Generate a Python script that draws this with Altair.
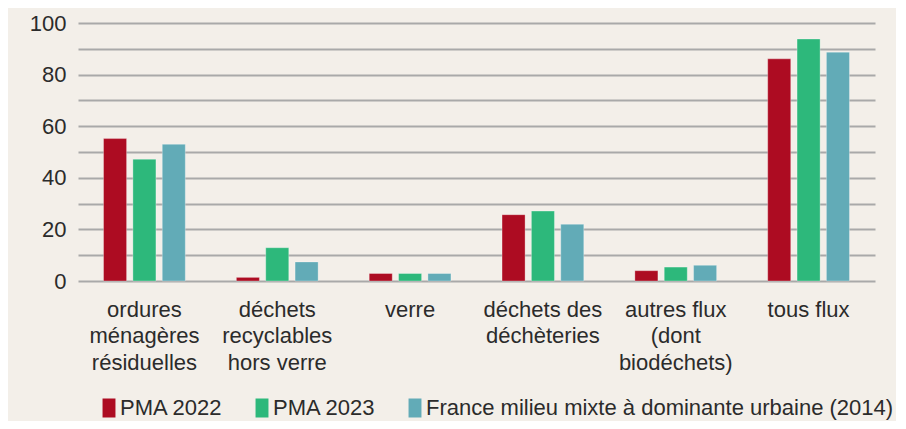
import altair as alt
import pandas as pd

categories = [
    "ordures|ménagères|résiduelles",
    "déchets|recyclables|hors verre",
    "verre",
    "déchets des|déchèteries",
    "autres flux|(dont|biodéchets)",
    "tous flux",
]
series = ["PMA 2022", "PMA 2023", "France milieu mixte à dominante urbaine (2014)"]
pma_2022 = [55.2, 1.4, 2.9, 25.7, 4.0, 86.1]
pma_2023 = [47.2, 12.9, 2.9, 27.1, 5.4, 93.8]
france_2014 = [53.0, 7.4, 2.9, 22.0, 6.1, 88.7]
colors = ["#AD0C22", "#2DB87B", "#62ABB7"]

rows = []
for s, vals in zip(series, [pma_2022, pma_2023, france_2014]):
    for c, v in zip(categories, vals):
        rows.append({"cat": c, "serie": s, "val": v})
df = pd.DataFrame(rows)

FONT = "Liberation Sans, Arial, sans-serif"
TXT = "#2b2b2b"
FS = 22

chart = alt.Chart(df).mark_bar(
    stroke="#ffffff", strokeWidth=1, strokeOpacity=0.3
).encode(
    x=alt.X(
        "cat:N", sort=categories, title=None,
        scale=alt.Scale(paddingInner=0, paddingOuter=0),
        axis=alt.Axis(
            labelAngle=0, ticks=False, domain=False,
            labelExpr="split(datum.label, '|')",
            labelBaseline="top", labelPadding=18, labelLineHeight=26.7,
            labelFontSize=FS, labelFont=FONT, labelColor=TXT, labelLimit=0,
        ),
    ),
    xOffset=alt.XOffset(
        "serie:N", sort=series,
        scale=alt.Scale(paddingInner=0.215, paddingOuter=0.87),
    ),
    y=alt.Y(
        "val:Q", title=None,
        scale=alt.Scale(domain=[0, 100], nice=False),
        axis=alt.Axis(
            values=list(range(0, 101, 10)),
            labelExpr="datum.value % 20 == 0 ? datum.label : ''",
            ticks=False, domain=False,
            gridColor="#A9A9A9", gridWidth=2,
            labelPadding=12, labelFontSize=FS, labelFont=FONT, labelColor=TXT,
        ),
    ),
    color=alt.Color(
        "serie:N", sort=series,
        scale=alt.Scale(domain=series, range=colors),
        legend=alt.Legend(
            title=None, orient="none", legendX=20, legendY=374,
            direction="horizontal",
            symbolType="M-0.68,-1H0.68V1H-0.68Z", symbolSize=361,
            symbolStrokeWidth=0, symbolOpacity=1,
            labelFontSize=FS, labelFont=FONT, labelColor=TXT,
            labelOffset=0, columnPadding=28, padding=0, labelLimit=0,
        ),
    ),
).properties(
    width=797, height=258,
    background="#F3EFE9",
    padding={"left": 70, "top": 15, "right": 21, "bottom": 140},
    autosize="none",
).configure_view(stroke=None)

chart.save("out.html", embed_options={"renderer": "svg", "actions": False})
